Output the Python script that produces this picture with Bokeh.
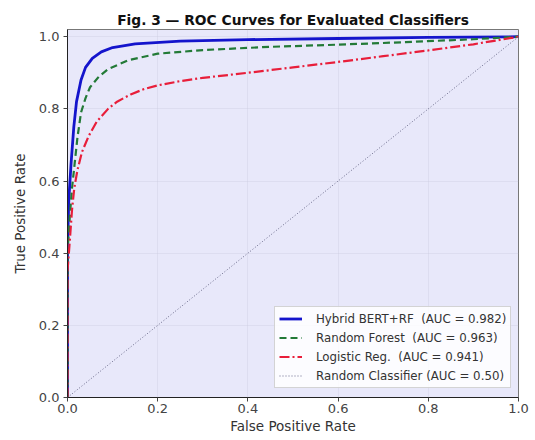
from bokeh.plotting import figure
from bokeh.models import FixedTicker, PrintfTickFormatter, Legend, LegendItem
from bokeh.embed import file_html
from bokeh.resources import INLINE

# ---- data ----
hyb_fpr = [0.0, 0.0, 0.003, 0.008, 0.014, 0.020, 0.030, 0.040, 0.055, 0.075, 0.10, 0.15, 0.25, 0.40, 0.60, 0.80, 1.0]
hyb_tpr = [0.0, 0.42, 0.55, 0.65, 0.75, 0.82, 0.88, 0.915, 0.94, 0.958, 0.970, 0.980, 0.988, 0.992, 0.995, 0.998, 1.0]

rf_fpr = [0.0, 0.0, 0.005, 0.010, 0.016, 0.022, 0.030, 0.040, 0.050, 0.070, 0.090, 0.135, 0.20, 0.30, 0.45, 0.60, 0.75, 0.90, 1.0]
rf_tpr = [0.0, 0.40, 0.50, 0.58, 0.65, 0.72, 0.79, 0.83, 0.86, 0.89, 0.91, 0.935, 0.953, 0.963, 0.972, 0.978, 0.985, 0.993, 1.0]

lr_fpr = [0.0, 0.0, 0.006, 0.010, 0.015, 0.022, 0.032, 0.047, 0.065, 0.090, 0.11, 0.14, 0.17, 0.20, 0.25, 0.30, 0.40, 0.50, 0.60, 0.70, 0.80, 0.90, 1.0]
lr_tpr = [0.0, 0.35, 0.45, 0.52, 0.58, 0.63, 0.68, 0.725, 0.765, 0.80, 0.82, 0.84, 0.855, 0.865, 0.877, 0.886, 0.90, 0.915, 0.93, 0.946, 0.962, 0.979, 1.0]

rand_fpr = [0.0, 1.0]
rand_tpr = [0.0, 1.0]

labels = ["Hybrid BERT+RF\u00a0 (AUC = 0.982)",
          "Random Forest\u00a0 (AUC = 0.963)",
          "Logistic Reg.\u00a0 (AUC = 0.941)",
          "Random Classifier (AUC = 0.50)"]
ticks = [0.0, 0.2, 0.4, 0.6, 0.8, 1.0]

FONT = "DejaVu Sans"

p = figure(width=530, height=437, x_range=(0, 1), y_range=(0, 1.02),
           output_backend="svg", toolbar_location=None,
           min_border_left=67, min_border_right=12, min_border_top=29, min_border_bottom=40,
           title="Fig. 3 \u2014 ROC Curves for Evaluated Classifiers")

p.title.text_font = FONT
p.title.text_font_size = "13.8px"
p.title.text_font_style = "bold"
p.title.align = "center"
p.title.text_color = "#111111"
p.title.offset = 0
p.title.standoff = 4

p.background_fill_color = "#e8e8fa"
p.border_fill_color = "white"
p.outline_line_color = "#777777"
p.outline_line_width = 1

for ax in (p.xaxis, p.yaxis):
    ax.ticker = FixedTicker(ticks=ticks)
    ax.formatter = PrintfTickFormatter(format="%.1f")
    ax.major_label_text_font = FONT
    ax.major_label_text_font_size = "13px"
    ax.major_label_text_color = "#444444"
    ax.axis_label_text_font = FONT
    ax.axis_label_text_font_size = "13.5px"
    ax.axis_label_text_font_style = "normal"
    ax.axis_label_text_color = "#333333"
    ax.major_tick_out = 4
    ax.major_tick_in = 0
    ax.minor_tick_out = 0
    ax.minor_tick_in = 0
    ax.axis_line_color = "#222222"
    ax.major_tick_line_color = "#444444"

p.xaxis.major_label_standoff = 2
p.xaxis.axis_label_standoff = 2
p.yaxis.major_label_standoff = 4
p.yaxis.axis_label_standoff = 8

p.xaxis.axis_label = "False Positive Rate"
p.yaxis.axis_label = "True Positive Rate"

p.grid.grid_line_color = "#c8c8dc"
p.grid.grid_line_alpha = 0.35
p.grid.ticker = FixedTicker(ticks=ticks)

r1 = p.line(hyb_fpr, hyb_tpr, line_color="#1414cc", line_width=2.8)
r2 = p.line(rf_fpr, rf_tpr, line_color="#237a37", line_width=2.2, line_dash="7 4")
r3 = p.line(lr_fpr, lr_tpr, line_color="#e81e3a", line_width=2.2, line_dash="10 3 2 3")
r4 = p.line(rand_fpr, rand_tpr, line_color="#6a6a8a", line_width=1, line_dash="1 2")

legend = Legend(items=[LegendItem(label=labels[0], renderers=[r1]),
                       LegendItem(label=labels[1], renderers=[r2]),
                       LegendItem(label=labels[2], renderers=[r3]),
                       LegendItem(label=labels[3], renderers=[r4])],
                location=(207, 9))
legend.label_text_font = FONT
legend.label_text_font_size = "11.8px"
legend.label_text_color = "#333333"
legend.glyph_width = 23
legend.glyph_height = 15
legend.label_height = 15
legend.spacing = 4
legend.padding = 4
legend.margin = 0
legend.label_standoff = 14
legend.border_line_color = "#aaaaaa"
legend.border_line_width = 1
legend.background_fill_color = "white"
legend.background_fill_alpha = 0.85
p.add_layout(legend)

open("out.html", "w").write(file_html(p, INLINE))
